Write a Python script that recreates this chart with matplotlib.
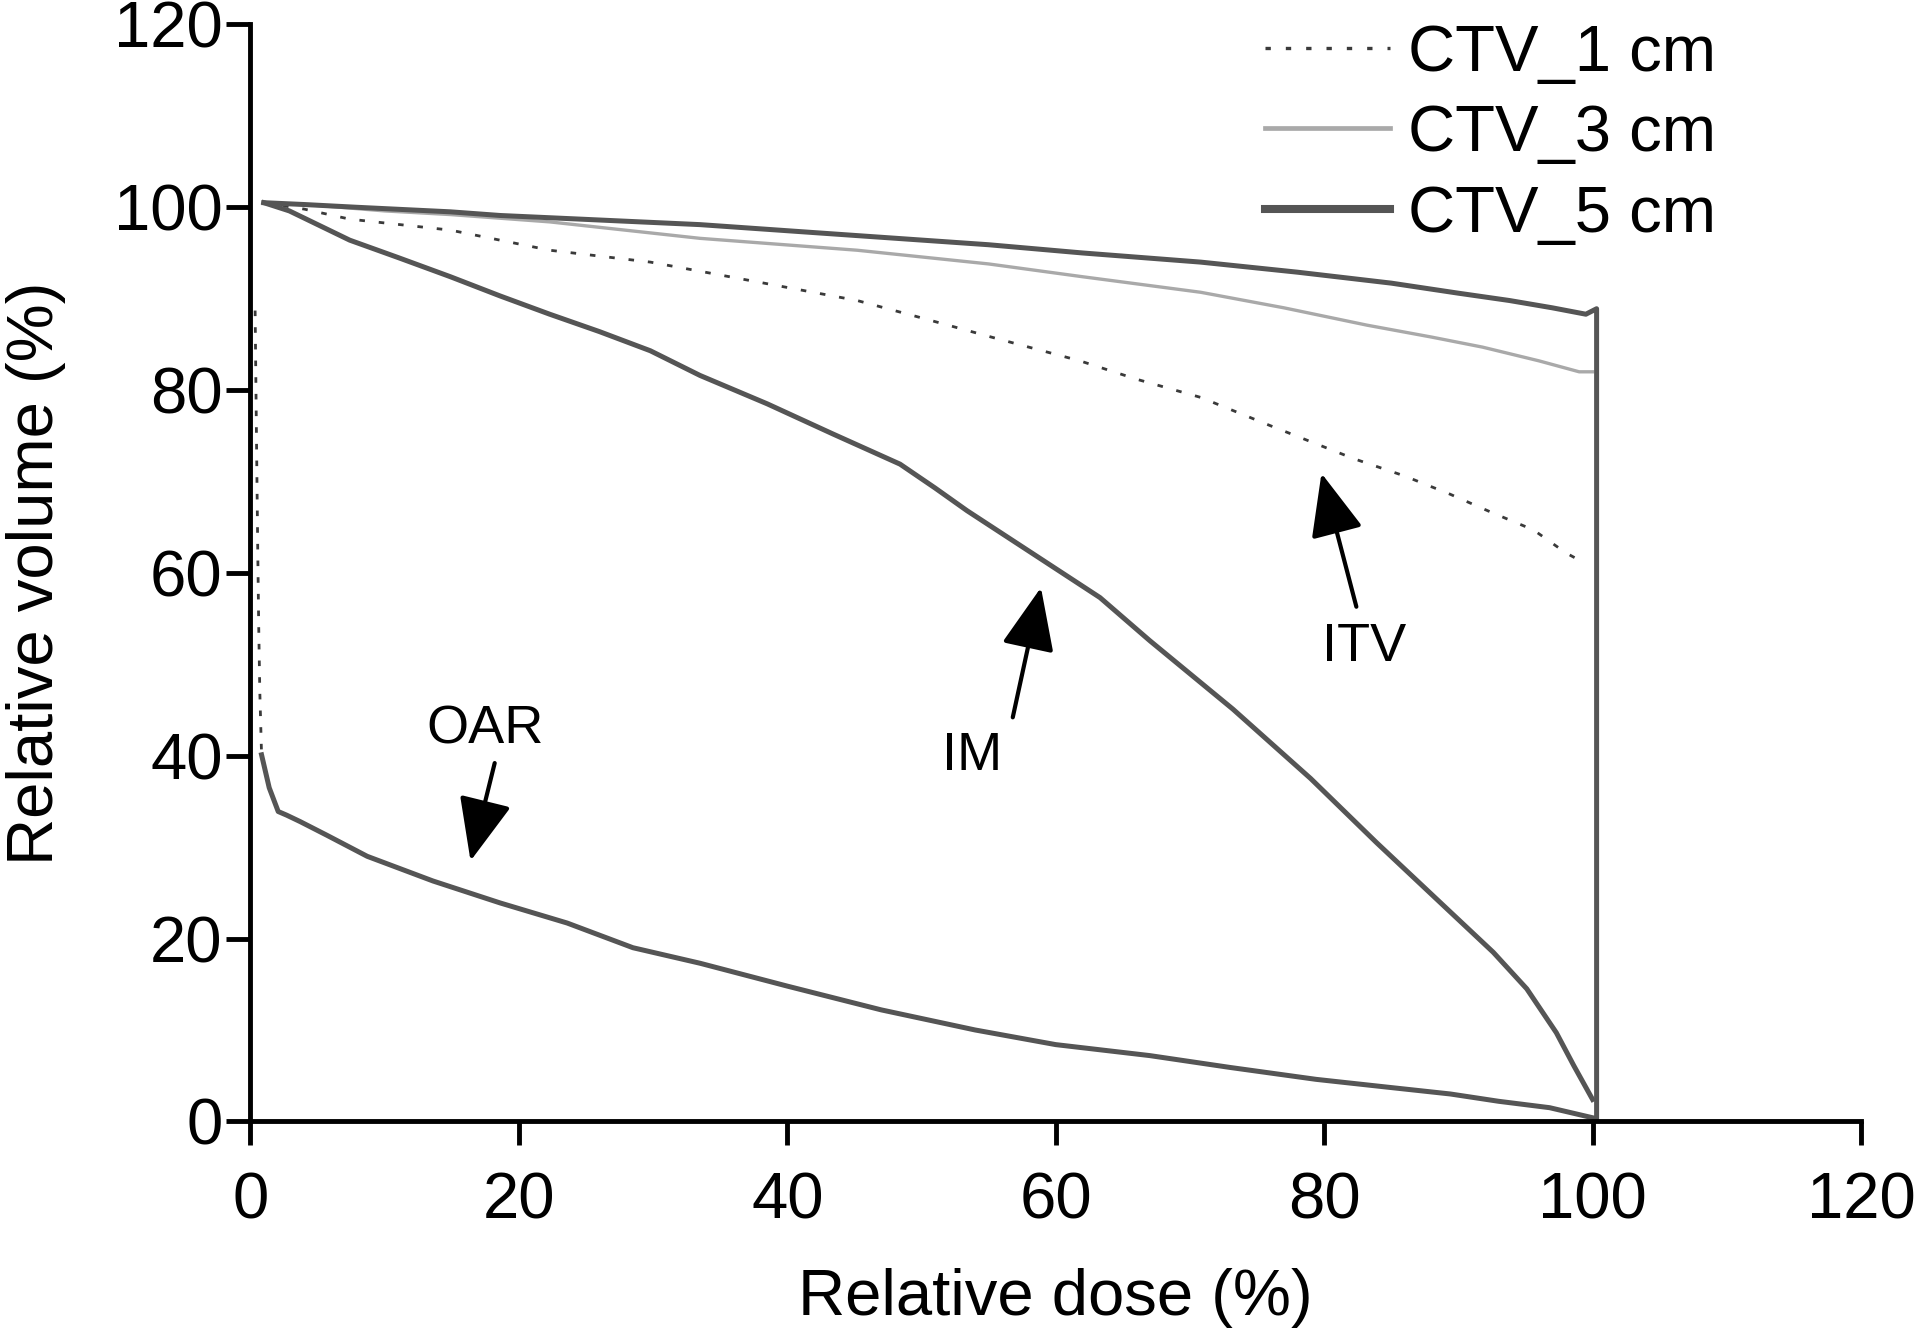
import matplotlib
matplotlib.use("Agg")
import matplotlib.pyplot as plt
from matplotlib.lines import Line2D

plt.rcParams['font.family'] = ['Liberation Sans', 'DejaVu Sans']

# ---- data ----
ctv5_x = [1, 4, 7.9, 14.9, 18.6, 24.6, 33.5, 45.2, 55, 62, 70.8, 78, 85, 90, 93.8, 97, 99.5, 100.3, 100.3]
ctv5_y = [100.5, 100.3, 100.0, 99.5, 99.1, 98.7, 98.1, 96.9, 95.9, 95.0, 94.0, 92.9, 91.7, 90.6, 89.8, 89.0, 88.3, 88.9, 0]

ctv3_x = [1, 5, 10, 14.9, 22.3, 33.5, 45.2, 55, 62, 70.8, 77, 83.2, 88, 91.8, 96, 99, 100]
ctv3_y = [100.5, 100.2, 99.6, 99.2, 98.4, 96.6, 95.3, 93.8, 92.4, 90.7, 89.0, 87.1, 85.8, 84.7, 83.2, 82.0, 82.0]

ctv1_x = [1, 4, 7.4, 14.9, 22.3, 29.8, 33.5, 39, 45.2, 50, 55.2, 61.8, 66, 70.8, 76, 82.2, 86, 89.4, 92.5, 95.6, 98, 99.5]
ctv1_y = [100.5, 99.8, 98.7, 97.5, 95.3, 94.0, 93.0, 91.5, 89.8, 87.9, 85.8, 83.2, 81.2, 79.2, 76.1, 72.5, 70.6, 68.6, 66.6, 64.7, 62.2, 61.0]

oar_dot_x = [0.35, 0.45, 0.55, 0.62, 0.7, 0.83]
oar_dot_y = [88.7, 75, 62, 54, 47, 40.1]

oar_x = [0.83, 1.4, 2.07, 2.7, 3.7, 5.7, 8.7, 13.6, 18.6, 23.6, 28.5, 33.5, 40, 47, 54, 60, 67, 73, 79.4, 85, 89.4, 93, 96.8, 100]
oar_y = [40.1, 36.5, 33.9, 33.5, 32.8, 31.3, 29.0, 26.3, 23.9, 21.7, 19.0, 17.3, 14.8, 12.2, 10.0, 8.4, 7.2, 5.9, 4.6, 3.7, 3.0, 2.2, 1.5, 0.4]

im_x = [1, 2.9, 7.4, 11, 14.9, 18.6, 22.3, 26, 29.8, 33.5, 38.5, 43.4, 48.4, 51, 53.4, 58.3, 63.3, 67.0, 73.2, 79.0, 83.9, 88.9, 92.6, 95.1, 97.3, 98.6, 100]
im_y = [100.5, 99.6, 96.4, 94.5, 92.4, 90.3, 88.3, 86.4, 84.3, 81.6, 78.5, 75.2, 71.9, 69.3, 66.8, 62.1, 57.3, 52.6, 45.1, 37.5, 30.5, 23.6, 18.5, 14.5, 9.7, 6.1, 2.4]

legend_labels = ["CTV_1 cm", "CTV_3 cm", "CTV_5 cm"]
xticks = [0, 20, 40, 60, 80, 100, 120]
yticks = [0, 20, 40, 60, 80, 100, 120]

# ---- figure ----
fig = plt.figure(figsize=(19.16, 13.35), dpi=100)
ax = fig.add_axes([0.1307, 0.160, 0.9713 - 0.1307, 0.9817 - 0.160])

dark = "#555555"
light = "#a9a9a9"
dotc = "#3a3a3a"
dots = (0, (2, 5))

ax.plot(ctv1_x, ctv1_y, color=dotc, lw=2.0, linestyle=dots)
ax.plot(oar_dot_x, oar_dot_y, color=dotc, lw=2.0, linestyle=(0, (2, 4)))
ax.plot(ctv3_x, ctv3_y, color=light, lw=2.4)
ax.plot(ctv5_x, ctv5_y, color=dark, lw=3.6)
ax.plot(oar_x, oar_y, color=dark, lw=3.6)
ax.plot(im_x, im_y, color=dark, lw=3.6)

ax.set_xlim(0, 120)
ax.set_ylim(0, 120)
ax.set_xticks(xticks)
ax.set_yticks(yticks)
for s in ['top', 'right']:
    ax.spines[s].set_visible(False)
for s in ['left', 'bottom']:
    ax.spines[s].set_linewidth(3.5)
    ax.spines[s].set_color('black')
fs = 47
ax.tick_params(axis='both', direction='out', length=17, width=3.5, labelsize=fs, colors='black')
ax.tick_params(axis='y', pad=3)
ax.tick_params(axis='x', pad=19)

ax.set_xlabel("Relative dose (%)", fontsize=fs)
ax.set_ylabel("Relative volume (%)", fontsize=fs)
ax.xaxis.set_label_coords(0.5, -0.161)
ax.yaxis.set_label_coords(-0.133, 0.5)
ax.xaxis.label.set_va('center')
ax.yaxis.label.set_va('center')

# annotations
afs = 39
ap = dict(arrowstyle='-|>,head_length=1.3,head_width=0.55', color='black', lw=3, mutation_scale=30, shrinkA=0, shrinkB=0)
ax.text(17.5, 42.9, "OAR", fontsize=afs, ha='center', va='center')
ax.annotate('', xy=(16.4, 28.5), xytext=(18.2, 39.2), arrowprops=ap)
ax.text(53.8, 40.0, "IM", fontsize=afs, ha='center', va='center')
ax.annotate('', xy=(58.9, 58.4), xytext=(56.8, 44.2), arrowprops=ap)
ax.text(83.0, 51.9, "ITV", fontsize=afs, ha='center', va='center')
ax.annotate('', xy=(79.8, 70.9), xytext=(82.4, 56.3), arrowprops=ap)

handles = [Line2D([], [], color=dotc, lw=2.4, linestyle=(0, (1.6, 4.5))),
           Line2D([], [], color=light, lw=3.4),
           Line2D([], [], color=dark, lw=5.8)]
leg = fig.legend(handles, legend_labels, loc='upper left', bbox_to_anchor=(0.660, 0.982),
                 frameon=False, fontsize=fs, handlelength=1.92, handletextpad=0.27,
                 labelspacing=0.31, borderpad=0, borderaxespad=0)

fig.savefig("out.png", dpi=100)
